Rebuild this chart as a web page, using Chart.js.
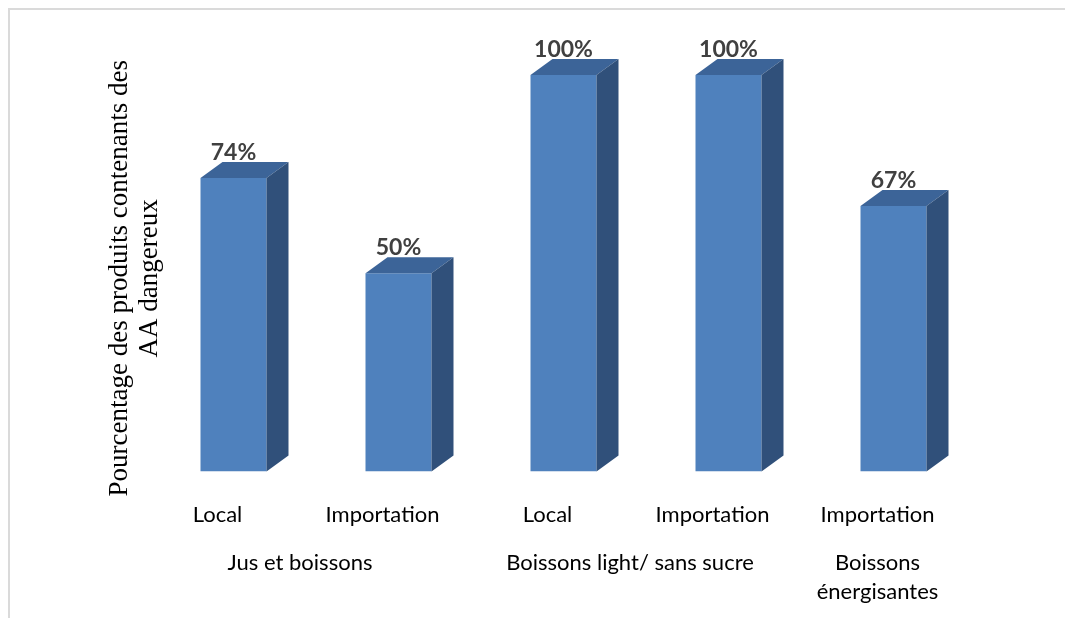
<!DOCTYPE html>
<html>
<head>
<meta charset="utf-8">
<title>Pourcentage des produits contenants des AA dangereux</title>
<script src="https://cdn.jsdelivr.net/npm/chart.js@4"></script>
<style>
  body { margin: 0; background: #fff; }
  .wrap { position: relative; width: 1065px; height: 618px; overflow: hidden; }
  .frame { position: absolute; left: 8px; top: 8px; width: 1060px; height: 700px;
           border-top: 2px solid #dadada; border-left: 2px solid #dadada; }
  canvas { position: absolute; left: 0; top: 0; }
</style>
</head>
<body>
<div class="wrap">
  <div class="frame"></div>
  <canvas id="chart" width="1065" height="618"></canvas>
</div>
<script>
const labels = ['Local', 'Importation', 'Local', 'Importation', 'Importation'];
const values = [74, 50, 100, 100, 67];
const groups = [
  { name: ['Jus et boissons'], from: 0, to: 1 },
  { name: ['Boissons light/ sans sucre'], from: 2, to: 3 },
  { name: ['Boissons', 'énergisantes'], from: 4, to: 4 }
];
const yTitle = ['Pourcentage des produits contenants des', 'AA dangereux'];

const labelShift = -16;   // category text sits left of the bar front
const depthX = 22;        // 3d depth of the boxes
const depthY = 16;

// top and side faces of each bar + value labels
const boxes = {
  id: 'boxes',
  afterDatasetsDraw(chart) {
    const ctx = chart.ctx;
    const meta = chart.getDatasetMeta(0);
    ctx.save();
    meta.data.forEach((bar, i) => {
      const l = bar.x - bar.width / 2;
      const r = bar.x + bar.width / 2;
      ctx.fillStyle = '#3c6498';
      ctx.beginPath();
      ctx.moveTo(l, bar.y);
      ctx.lineTo(r, bar.y);
      ctx.lineTo(r + depthX, bar.y - depthY);
      ctx.lineTo(l + depthX, bar.y - depthY);
      ctx.closePath();
      ctx.fill();

      ctx.fillStyle = '#30507a';
      ctx.beginPath();
      ctx.moveTo(r, bar.y);
      ctx.lineTo(r + depthX, bar.y - depthY);
      ctx.lineTo(r + depthX, bar.base - depthY);
      ctx.lineTo(r, bar.base);
      ctx.closePath();
      ctx.fill();

      ctx.fillStyle = '#404040';
      ctx.font = 'bold 23px Lato';
      ctx.textAlign = 'center';
      ctx.textBaseline = 'alphabetic';
      ctx.fillText(values[i] + '%', bar.x, bar.y - 18);
    });
    ctx.restore();
  },
  afterDraw(chart) {
    const ctx = chart.ctx;
    const x = chart.scales.x;
    const area = chart.chartArea;
    ctx.save();
    ctx.fillStyle = '#000';
    ctx.font = '22px Lato';
    ctx.textAlign = 'center';
    ctx.textBaseline = 'alphabetic';
    groups.forEach(g => {
      const cx = (x.getPixelForValue(g.from) + x.getPixelForValue(g.to)) / 2 + labelShift;
      g.name.forEach((line, k) => {
        ctx.fillText(line, cx, area.bottom + 98 + k * 29);
      });
    });

    // axis title, rotated
    ctx.font = '27px "Liberation Serif"';
    ctx.textBaseline = 'middle';
    const cy = (area.top + area.bottom) / 2 + 5;
    yTitle.forEach((line, k) => {
      ctx.save();
      ctx.translate(area.left - 31 + k * 30, cy);
      ctx.rotate(-Math.PI / 2);
      ctx.fillText(line, 0, 0);
      ctx.restore();
    });
    ctx.restore();
  }
};

new Chart(document.getElementById('chart'), {
  type: 'bar',
  data: {
    labels: labels,
    datasets: [{
      data: values,
      backgroundColor: '#4f81bd',
      borderWidth: 0,
      categoryPercentage: 1,
      barPercentage: 0.4
    }]
  },
  options: {
    responsive: false,
    animation: false,
    events: [],
    layout: { padding: { left: 151, right: 89, top: 75, bottom: 60 } },
    plugins: { legend: { display: false }, tooltip: { enabled: false } },
    scales: {
      x: {
        grid: { display: false, drawTicks: false },
        border: { display: false },
        ticks: {
          color: '#000',
          font: { family: 'Lato', size: 22 },
          padding: 30,
          labelOffset: labelShift,
          maxRotation: 0,
          autoSkip: false
        }
      },
      y: {
        display: false,
        min: 0,
        max: 100
      }
    }
  },
  plugins: [boxes]
});
</script>
</body>
</html>
